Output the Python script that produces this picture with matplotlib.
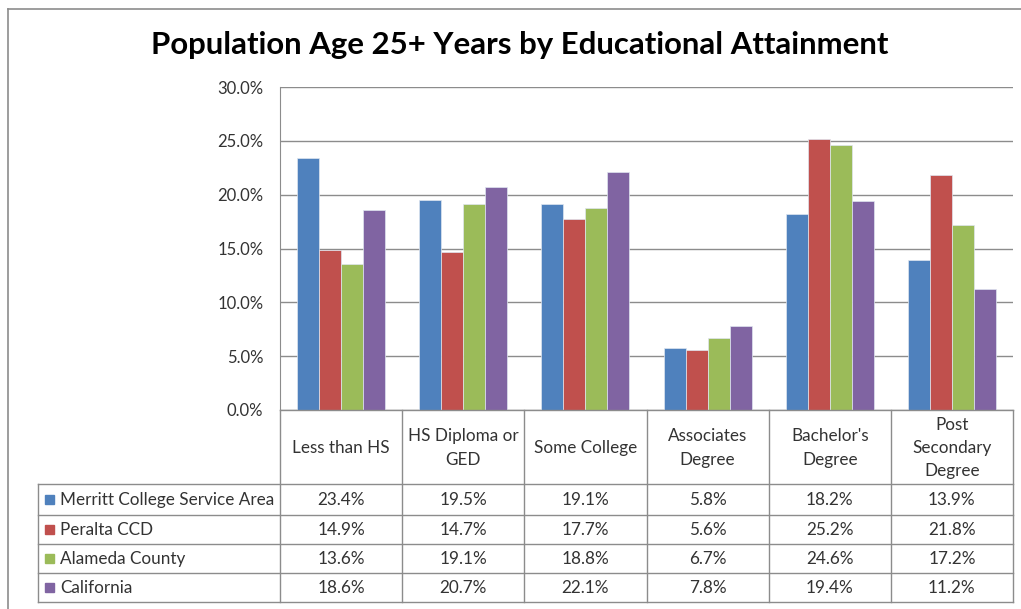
import numpy as np
import matplotlib
matplotlib.use("Agg")
import matplotlib.pyplot as plt
from matplotlib.ticker import PercentFormatter

plt.rcParams['font.family'] = ['Lato', 'DejaVu Sans']

categories = ["Less than HS", "HS Diploma or\nGED", "Some College",
              "Associates\nDegree", "Bachelor's\nDegree", "Post\nSecondary\nDegree"]
series = ["Merritt College Service Area", "Peralta CCD", "Alameda County", "California"]
merritt = [23.4, 19.5, 19.1, 5.8, 18.2, 13.9]
peralta = [14.9, 14.7, 17.7, 5.6, 25.2, 21.8]
alameda = [13.6, 19.1, 18.8, 6.7, 24.6, 17.2]
california = [18.6, 20.7, 22.1, 7.8, 19.4, 11.2]
values = [merritt, peralta, alameda, california]
colors = ['#4F81BD', '#C0504D', '#9BBB59', '#8064A2']

W, H = 1021, 609
fig = plt.figure(figsize=(W / 100, H / 100), dpi=100)

# pixel layout of the excel-style chart
left, right, top, bottom = 280, 1013, 87, 410
ax = fig.add_axes([left / W, 1 - bottom / H, (right - left) / W, (bottom - top) / H])

x = np.arange(len(categories))
bw = 0.18
for i, (vals, c) in enumerate(zip(values, colors)):
    ax.bar(x + (i - 1.5) * bw, vals, bw, color=c, edgecolor='#dfe6f0', linewidth=0.5, zorder=3)

ax.set_xlim(-0.5, len(categories) - 0.5)
ax.set_ylim(0, 30)
ax.set_yticks(np.arange(0, 31, 5))
ax.yaxis.set_major_formatter(PercentFormatter(decimals=1))
ax.tick_params(axis='y', length=0, pad=12, labelsize=12, labelcolor='#333333')
ax.set_xticks([])
ax.grid(axis='y', color='#8c8c8c', linewidth=1, zorder=0)
for s in ['top', 'right', 'bottom']:
    ax.spines[s].set_visible(False)
ax.spines['left'].set_color('#8c8c8c')

fig.text(520 / W, 1 - 45 / H, "Population Age 25+ Years by Educational Attainment",
         ha='center', va='center', fontsize=22.4, fontweight='bold', color='black')

# data table drawn in pixel coordinates
tab = fig.add_axes([0, 0, 1, 1])
tab.set_xlim(0, W)
tab.set_ylim(H, 0)
tab.axis('off')
tab.patch.set_alpha(0)

gc = '#8c8c8c'
col_w = (right - left) / len(categories)
edges = [left + k * col_w for k in range(len(categories) + 1)]
head_bot = 484
rows = [484, 515, 544, 573, 602]
leg_left = 38

# outer chart frame (cut at right and bottom in the reference)
tab.plot([8, W], [8.5, 8.5], color='#8c8c8c', lw=1.2)
tab.plot([8, 8], [8.5, H], color='#8c8c8c', lw=1.2)

tab.plot([left, right], [bottom, bottom], color=gc, lw=1)
for r in rows:
    tab.plot([leg_left, right], [r, r], color=gc, lw=1)
for e in edges:
    tab.plot([e, e], [bottom, rows[-1]], color=gc, lw=1)
tab.plot([leg_left, leg_left], [rows[0], rows[-1]], color=gc, lw=1)

fs = 12.3
for j, cat in enumerate(categories):
    cx = (edges[j] + edges[j + 1]) / 2
    tab.text(cx, (bottom + head_bot) / 2 + 1, cat, ha='center', va='center',
             fontsize=fs, color='#333333', linespacing=1.55)

for i, name in enumerate(series):
    cy = (rows[i] + rows[i + 1]) / 2
    tab.add_patch(plt.Rectangle((45, cy - 4.5), 9, 9, color=colors[i]))
    tab.text(60, cy + 0.5, name, ha='left', va='center', fontsize=fs, color='#333333')
    for j, v in enumerate(values[i]):
        cx = (edges[j] + edges[j + 1]) / 2
        tab.text(cx, cy + 0.5, f"{v:.1f}%", ha='center', va='center',
                 fontsize=fs, color='#333333')

fig.savefig("out.png", dpi=100)
